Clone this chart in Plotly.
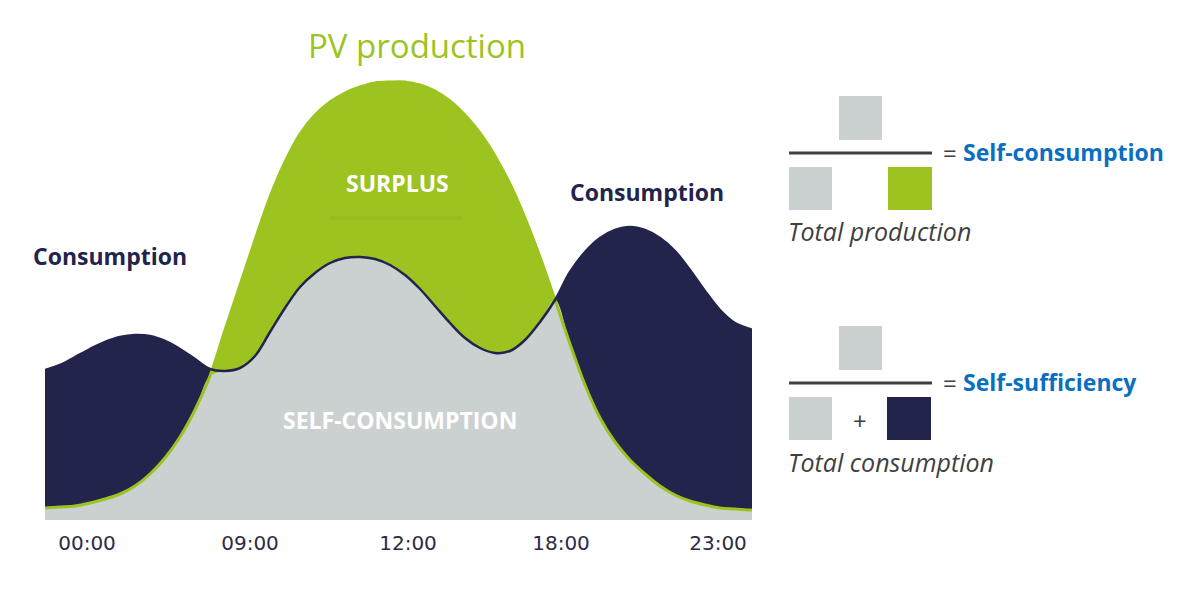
import numpy as np
import plotly.graph_objects as go

# positions along the (stylised) day axis
pos = [0, 15, 30, 45, 60, 75, 90, 105, 120, 135, 150, 165, 180, 195, 210, 225, 240,
       255, 270, 285, 300, 315, 330, 345, 360, 375, 390, 405, 420, 435, 450, 465, 480,
       495, 510, 525, 540, 555, 570, 585, 600, 615, 630, 645, 660, 675, 690, 705, 707]

consumption = [1.50, 1.55, 1.63, 1.71, 1.78, 1.83, 1.85, 1.84, 1.79, 1.71, 1.61, 1.51,
               1.49, 1.52, 1.64, 1.88, 2.12, 2.33, 2.47, 2.57, 2.62, 2.63, 2.61, 2.55,
               2.45, 2.31, 2.14, 1.97, 1.82, 1.72, 1.67, 1.69, 1.80, 1.98, 2.20, 2.48,
               2.68, 2.82, 2.90, 2.93, 2.90, 2.82, 2.69, 2.50, 2.29, 2.10, 1.97, 1.91, 1.90]

pv_production = [0.12, 0.13, 0.14, 0.17, 0.21, 0.26, 0.34, 0.46, 0.62, 0.83, 1.10, 1.44,
                 1.90, 2.35, 2.80, 3.23, 3.58, 3.86, 4.05, 4.18, 4.27, 4.33, 4.37, 4.38,
                 4.38, 4.35, 4.29, 4.19, 4.05, 3.87, 3.64, 3.36, 3.02, 2.63, 2.20, 1.76,
                 1.35, 1.02, 0.78, 0.60, 0.46, 0.34, 0.25, 0.19, 0.15, 0.12, 0.11, 0.10, 0.10]

tick_pos = [42, 205, 363, 516, 673]
tick_labels = ["00:00", "09:00", "12:00", "18:00", "23:00"]

NAVY = "#23244b"
GREEN = "#9cc31f"
GRAY = "#cbd1d1"
BLUE = "#0b6fc1"
DARK = "#404040"

self_cons = np.minimum(consumption, pv_production)

fig = go.Figure()
# consumption area, then PV on top, then the shared part in grey
fig.add_trace(go.Scatter(x=pos, y=consumption, fill="tozeroy", fillcolor=NAVY,
                         mode="lines", line=dict(width=0, shape="spline"), hoverinfo="skip"))
fig.add_trace(go.Scatter(x=pos, y=pv_production, fill="tozeroy", fillcolor=GREEN,
                         mode="lines", line=dict(width=0, shape="spline"), hoverinfo="skip"))
fig.add_trace(go.Scatter(x=pos, y=self_cons, fill="tozeroy", fillcolor=GRAY,
                         mode="lines", line=dict(width=0, shape="spline"), hoverinfo="skip"))
fig.add_trace(go.Scatter(x=pos, y=pv_production, mode="lines",
                         line=dict(color=GREEN, width=3, shape="spline"), hoverinfo="skip"))
fig.add_trace(go.Scatter(x=pos, y=consumption, mode="lines",
                         line=dict(color=NAVY, width=2.5, shape="spline"), hoverinfo="skip"))

# pixel -> paper helpers (plot area is 45..752 x 60..520 on the page)
def fx(px):
    return (px - 45) / 707

def fy(py):
    return (520 - py) / 460

def label(text, px, py, size, color, bold=False, italic=False, xanchor="center", font="Open Sans"):
    if bold:
        text = "<b>" + text + "</b>"
    if italic:
        text = "<i>" + text + "</i>"
    fig.add_annotation(x=fx(px), y=fy(py), xref="paper", yref="paper", text=text,
                       showarrow=False, xanchor=xanchor, yanchor="middle",
                       font=dict(family=font, size=size, color=color))

label("PV production", 417, 46, 33, GREEN)
label("SURPLUS", 397, 183, 23, "white", bold=True)
label("Consumption", 110, 256, 23, NAVY, bold=True)
label("Consumption", 647, 192, 23, NAVY, bold=True)
label("SELF-CONSUMPTION", 400, 420, 23, "white", bold=True)

# faint mark under SURPLUS
fig.add_shape(type="line", xref="paper", yref="paper", x0=fx(330), x1=fx(462),
              y0=fy(218), y1=fy(218), line=dict(color="#97be1e", width=4))

# formula boxes on the right
def box(x0, y0, x1, y1, color):
    fig.add_shape(type="rect", xref="paper", yref="paper", x0=fx(x0), x1=fx(x1),
                  y0=fy(y1), y1=fy(y0), fillcolor=color, line=dict(width=0))

def bar(y):
    fig.add_shape(type="line", xref="paper", yref="paper", x0=fx(789), x1=fx(932),
                  y0=fy(y), y1=fy(y), line=dict(color=DARK, width=3))

box(839, 96, 882, 140, GRAY)
bar(153)
box(789, 167, 832, 210, GRAY)
box(888, 167, 932, 210, GREEN)
label("=", 941, 152, 24, DARK, xanchor="left")
label("Self-consumption", 961, 152, 23, BLUE, bold=True, xanchor="left")
label("Total production", 786, 231, 25, DARK, italic=True, xanchor="left")

box(839, 326, 882, 370, GRAY)
bar(383)
box(789, 397, 832, 440, GRAY)
box(887, 397, 931, 440, NAVY)
label("+", 860, 420, 24, DARK)
label("=", 941, 382, 24, DARK, xanchor="left")
label("Self-sufficiency", 961, 382, 23, BLUE, bold=True, xanchor="left")
label("Total consumption", 786, 462, 25, DARK, italic=True, xanchor="left")

# page body has an 8px margin, so the figure is 8px smaller and margins shifted
fig.update_layout(
    width=1192, height=590,
    margin=dict(l=37, r=448, t=52, b=78),
    paper_bgcolor="white", plot_bgcolor="white",
    showlegend=False,
    xaxis=dict(range=[0, 707], tickvals=tick_pos, ticktext=tick_labels,
               showgrid=False, zeroline=False, showline=False,
               ticks="outside", ticklen=5, tickcolor="rgba(0,0,0,0)",
               tickfont=dict(family="DejaVu Sans", size=20, color="#2b2b45")),
    yaxis=dict(range=[0, 4.6], visible=False, showgrid=False, zeroline=False),
)

fig.write_html("out.html")
